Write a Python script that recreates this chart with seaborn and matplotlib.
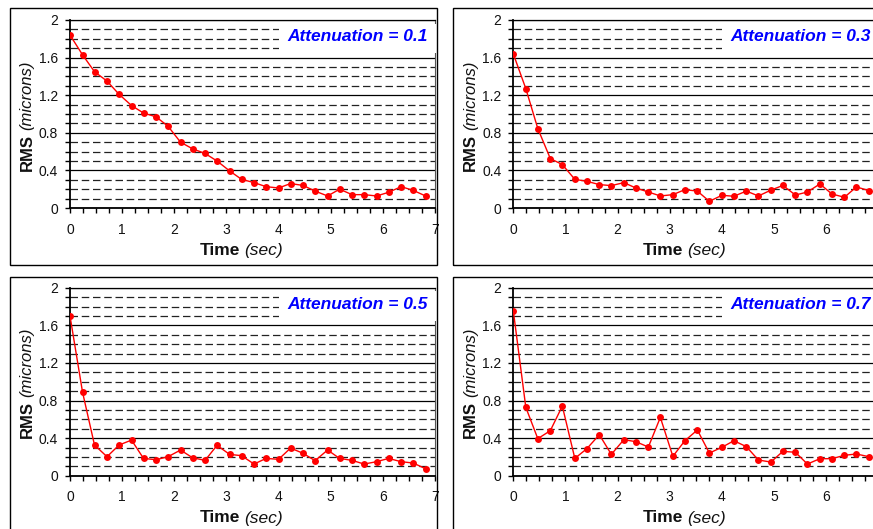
import numpy as np
import matplotlib
matplotlib.use("Agg")
import matplotlib.pyplot as plt
import seaborn as sns
from matplotlib.patches import Rectangle
from matplotlib.ticker import MultipleLocator

# Temps des mesures (sec)
TIME = [0.00, 0.24, 0.47, 0.71, 0.94, 1.18, 1.41, 1.65, 1.88, 2.12,
        2.35, 2.59, 2.82, 3.06, 3.29, 3.53, 3.76, 4.00, 4.23, 4.47,
        4.70, 4.94, 5.17, 5.41, 5.64, 5.88, 6.11, 6.35, 6.58, 6.82]

# RMS (microns) pour chaque attenuation
RMS_01 = [1.84, 1.63, 1.45, 1.35, 1.21, 1.09, 1.01, 0.97, 0.87, 0.70,
          0.63, 0.58, 0.50, 0.395, 0.305, 0.27, 0.227, 0.213, 0.26, 0.24,
          0.18, 0.128, 0.20, 0.142, 0.142, 0.128, 0.167, 0.227, 0.188, 0.128]
RMS_03 = [1.64, 1.27, 0.845, 0.526, 0.462, 0.305, 0.284, 0.249, 0.238, 0.27,
          0.213, 0.17, 0.128, 0.142, 0.195, 0.18, 0.071, 0.135, 0.125, 0.18,
          0.128, 0.19, 0.24, 0.138, 0.17, 0.256, 0.149, 0.114, 0.224, 0.185]
RMS_05 = [1.70, 0.89, 0.326, 0.202, 0.326, 0.379, 0.184, 0.170, 0.202, 0.273,
          0.191, 0.163, 0.323, 0.227, 0.213, 0.124, 0.184, 0.174, 0.294, 0.238,
          0.160, 0.273, 0.184, 0.163, 0.124, 0.149, 0.184, 0.149, 0.135, 0.074]
RMS_07 = [1.755, 0.727, 0.394, 0.479, 0.741, 0.184, 0.287, 0.436, 0.227, 0.383,
          0.362, 0.305, 0.62, 0.206, 0.372, 0.486, 0.241, 0.302, 0.372, 0.309,
          0.167, 0.145, 0.259, 0.249, 0.124, 0.181, 0.181, 0.217, 0.231, 0.202]

LABELS = ["Attenuation = 0.1", "Attenuation = 0.3", "Attenuation = 0.5", "Attenuation = 0.7"]
SERIES = [RMS_01, RMS_03, RMS_05, RMS_07]
X_TICKS = [0, 1, 2, 3, 4, 5, 6, 7]
Y_TICKS = [0, 0.4, 0.8, 1.2, 1.6, 2.0]
Y_TICKLABELS = ['0', '0.4', '0.8', '1.2', '1.6', '2']

sns.set_theme(style="white")
plt.rcParams['font.family'] = ['Liberation Sans', 'DejaVu Sans']

W, H = 873, 529
fig = plt.figure(figsize=(W / 100, H / 100), dpi=100)

# positions en pixels : (gauche axe, haut axe), cadre (x0, y0, x1, y1)
layout = [
    ((70, 20), (9.5, 7.5, 436.5, 265)),
    ((513.3, 20), (452.5, 8, 885, 265)),
    ((70, 287.7), (9.5, 277, 436.5, 540)),
    ((513.3, 287.7), (452.5, 277, 885, 540)),
]
AX_W, AX_H = 365, 188
TXT = '#111111'

for i, ((pos, frame), label, rms) in enumerate(zip(layout, LABELS, SERIES)):
    x0, y0, x1, y1 = frame
    fig.add_artist(Rectangle((x0 / W, 1 - y1 / H), (x1 - x0) / W, (y1 - y0) / H,
                             transform=fig.transFigure, fill=False, ec='black', lw=1))

    ax = fig.add_axes([pos[0] / W, 1 - (pos[1] + AX_H) / H, AX_W / W, AX_H / H])
    ax.set_facecolor('white')

    sns.lineplot(x=TIME, y=rms, ax=ax, color='#ff0000', marker='o', markersize=5,
                 markeredgewidth=0, linewidth=1, zorder=5)

    ax.set_xlim(0, 7)
    ax.set_ylim(0, 2)
    ax.xaxis.set_minor_locator(MultipleLocator(0.25))
    ax.yaxis.set_minor_locator(MultipleLocator(0.1))
    ax.set_xticks(X_TICKS)
    # le "7" des panneaux de droite tombe hors de l'image
    right_col = i % 2 == 1
    ax.set_xticklabels([str(t) if not (right_col and t == 7) else '' for t in X_TICKS])
    ax.set_yticks(Y_TICKS)
    ax.set_yticklabels(Y_TICKLABELS)

    ax.grid(which='major', axis='y', color='black', lw=0.9, ls='-')
    ax.grid(which='minor', axis='y', color='#222222', lw=0.9, ls=(0, (6, 3)))
    ax.grid(which='both', axis='x', visible=False)
    ax.set_axisbelow(True)

    for side in ['left', 'bottom']:
        ax.spines[side].set_color('black')
        ax.spines[side].set_linewidth(1.3)
    ax.spines['top'].set_color('black')
    ax.spines['top'].set_linewidth(0.9)
    ax.spines['right'].set_color('#555555')
    ax.spines['right'].set_linewidth(0.8)

    ax.tick_params(axis='both', which='both', direction='out', length=3.5, width=1,
                   color='black', labelsize=10, labelcolor=TXT,
                   left=True, bottom=True)
    ax.tick_params(axis='x', which='both', pad=7)
    ax.tick_params(axis='y', which='both', pad=5)
    ax.set_xlabel('')
    ax.set_ylabel('')

    # Titre d'axe X : "Time" gras + "(sec)" italique
    tx = ax.text(0.466, -0.225, 'Time', transform=ax.transAxes, ha='right', va='center',
                 fontsize=12.5, fontweight='bold', color=TXT)
    ax.annotate('(sec)', xy=(1, 0), xycoords=tx, xytext=(3, 0), textcoords='offset points',
                ha='left', va='bottom', fontsize=12.5, fontstyle='italic', color=TXT)

    # Titre d'axe Y : "RMS" gras + "(microns)" italique
    ty = ax.text(-0.118, 0.395, 'RMS', transform=ax.transAxes, ha='center', va='top',
                 rotation=90, fontsize=12, fontweight='bold', color=TXT)
    ax.annotate('(microns)', xy=(0, 1), xycoords=ty, xytext=(0, 3), textcoords='offset points',
                ha='left', va='bottom', rotation=90, fontsize=12, fontstyle='italic', color=TXT)

    # cartouche blanc derriere le titre
    ax.add_patch(Rectangle((4.0, 1.645), 3.2, 0.315, facecolor='white', edgecolor='none',
                           zorder=3, clip_on=False))
    ax.text(6.86, 1.825, label, ha='right', va='center', fontsize=12.5, color='#0000ff',
            fontweight='bold', fontstyle='italic', zorder=4)

fig.savefig("out.png", dpi=100)
